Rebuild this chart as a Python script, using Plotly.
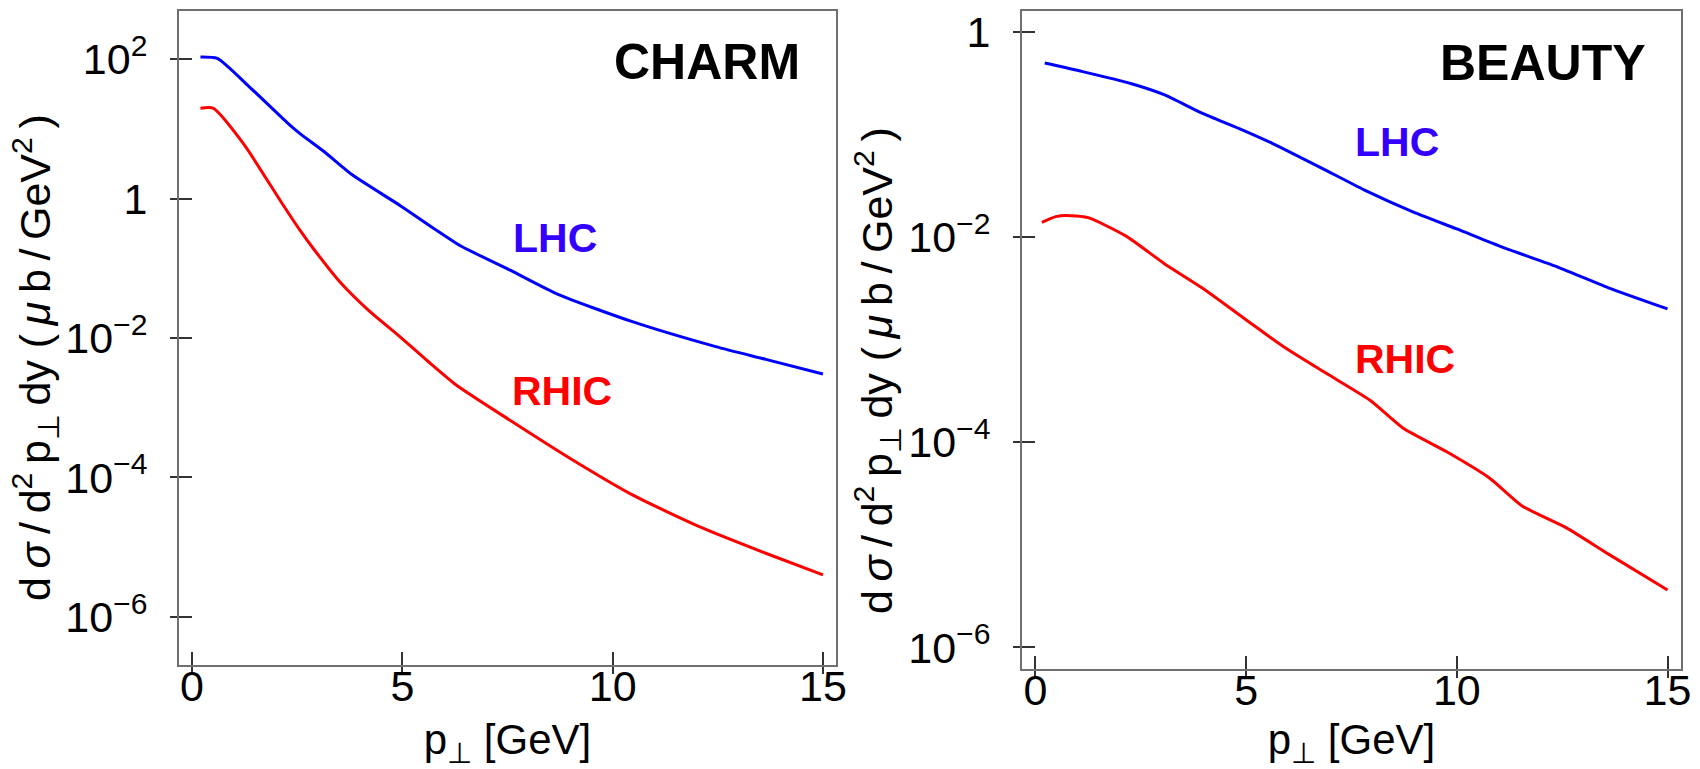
import plotly.graph_objects as go

# ---------------- data ----------------
pt_charm_lhc = [0.2, 0.6, 1.35, 2.26, 2.56, 3.16, 3.8, 4.97, 5.74, 6.39, 7.55, 8.7, 10.47, 12.45, 13.64, 15.0]
charm_lhc = [107.2, 102.3, 40.7, 12.3, 8.61, 4.61, 2.21, 0.778, 0.376, 0.209, 0.0948, 0.0423,
             0.01714, 0.00752, 0.00494, 0.00305]

pt_charm_rhic = [0.2, 0.5, 1.23, 2.13, 2.56, 2.9, 3.55, 4.19, 4.94, 5.6, 6.28, 7.55, 9.05, 10.47, 12.06, 13.64, 15.0]
charm_rhic = [19.8, 19.8, 6.03, 0.871, 0.355, 0.186, 0.0603, 0.0251, 0.01047, 0.00468, 0.00212,
              6.67e-4, 1.78e-4, 5.62e-5, 1.97e-5, 8.18e-6, 4.0e-6]

pt_beauty_lhc = [0.22, 1.12, 2.28, 3.05, 3.95, 4.85, 5.63, 6.79, 7.81, 8.97, 10.0, 11.03, 12.32, 13.6, 15.0]
beauty_lhc = [0.498, 0.411, 0.313, 0.245, 0.162, 0.1138, 0.0818, 0.0472, 0.0288, 0.01758, 0.01202,
              0.00813, 0.00525, 0.00321, 0.00200]

pt_beauty_rhic = [0.15, 0.48, 0.73, 1.25, 2.15, 3.05, 3.95, 4.98, 5.88, 6.91, 7.94, 8.72, 9.75, 10.78,
                  11.55, 12.58, 13.6, 15.0]
beauty_rhic = [0.01396, 0.01585, 0.0163, 0.01549, 0.01023, 0.00555, 0.00321, 0.001585, 8.59e-4, 4.68e-4,
               2.57e-4, 1.38e-4, 8.13e-5, 4.47e-5, 2.40e-5, 1.48e-5, 8.13e-6, 3.63e-6]

x_tickvals = [0, 5, 10, 15]
x_ticktext = ["0", "5", "10", "15"]
charm_tickvals = [1e2, 1, 1e-2, 1e-4, 1e-6]
charm_ticktext = ["10<sup>2</sup>", "1", "10<sup>−2</sup>", "10<sup>−4</sup>", "10<sup>−6</sup>"]
beauty_tickvals = [1, 1e-2, 1e-4, 1e-6]
beauty_ticktext = ["1", "10<sup>−2</sup>", "10<sup>−4</sup>", "10<sup>−6</sup>"]

x_title = "p<sub>⊥</sub> [GeV]"
TS = "\u2009"  # thin space, widens the typeset-looking title
y_title = (f"d{TS}<i>σ</i>{TS}/{TS}d<sup>2</sup>{TS}p<sub>⊥</sub>{TS}dy "
           f"({TS}<i>μ</i>{TS}b{TS}/{TS}GeV<sup>2</sup>{TS})")

# ---------------- styling ----------------
FONT = "Liberation Sans, Arial, sans-serif"
BLUE = "#0000ff"
RED = "#ff0000"
FRAME = "#707070"
TICK = "#333333"

W, H = 1700, 769
left_x = [179 / W, 836 / W]
right_x = [1022 / W, 1681 / W]
left_y = [(H - 665) / H, (H - 11) / H]
right_y = [(H - 669) / H, (H - 11) / H]

fig = go.Figure()
line_kw = dict(width=3, shape="spline", smoothing=0.6)
fig.add_trace(go.Scatter(x=pt_charm_lhc, y=charm_lhc, mode="lines",
                         line=dict(color=BLUE, **line_kw), xaxis="x", yaxis="y"))
fig.add_trace(go.Scatter(x=pt_charm_rhic, y=charm_rhic, mode="lines",
                         line=dict(color=RED, **line_kw), xaxis="x", yaxis="y"))
fig.add_trace(go.Scatter(x=pt_beauty_lhc, y=beauty_lhc, mode="lines",
                         line=dict(color=BLUE, **line_kw), xaxis="x2", yaxis="y2"))
fig.add_trace(go.Scatter(x=pt_beauty_rhic, y=beauty_rhic, mode="lines",
                         line=dict(color=RED, **line_kw), xaxis="x2", yaxis="y2"))
# empty traces so that the overlay axes (inner half of the crossing ticks) are drawn
for xa, ya in (("x3", "y3"), ("x4", "y4")):
    fig.add_trace(go.Scatter(x=[None], y=[None], mode="lines", xaxis=xa, yaxis=ya,
                             hoverinfo="skip", showlegend=False))

TICK_SIZE = 43
TITLE_SIZE = 43
tickfont = dict(family=FONT, size=TICK_SIZE, color="black")
base = dict(showline=True, linecolor=FRAME, linewidth=2, mirror=True, showgrid=False,
            zeroline=False, ticks="outside", ticklen=7, tickwidth=2, tickcolor=TICK,
            tickfont=tickfont, automargin=False)
over = dict(showline=False, showgrid=False, zeroline=False, ticks="inside", ticklen=13,
            tickwidth=2, tickcolor=TICK, showticklabels=False)

xr_left = [-0.31, 15.31]
xr_right = [-0.32, 15.32]
yr_left = [-6.69, 2.69]
yr_right = [-6.21, 0.205]

xt = dict(text=x_title, font=dict(family=FONT, size=42), standoff=29)

fig.update_layout(
    width=W, height=H,
    margin=dict(l=0, r=0, t=0, b=0),
    paper_bgcolor="white", plot_bgcolor="white",
    showlegend=False,
    font=dict(family=FONT, color="black"),
    xaxis=dict(base, domain=left_x, anchor="y", range=xr_left, tickmode="array",
               tickvals=x_tickvals, ticktext=x_ticktext, ticklabelstandoff=-25, title=xt),
    yaxis=dict(base, domain=left_y, anchor="x", type="log", range=yr_left, tickmode="array",
               tickvals=charm_tickvals, ticktext=charm_ticktext, ticklabelstandoff=14),
    xaxis2=dict(base, domain=right_x, anchor="y2", range=xr_right, tickmode="array",
                tickvals=x_tickvals, ticktext=x_ticktext, ticklabelstandoff=-25, title=xt),
    yaxis2=dict(base, domain=right_y, anchor="x2", type="log", range=yr_right, tickmode="array",
                tickvals=beauty_tickvals, ticktext=beauty_ticktext, ticklabelstandoff=14),
    xaxis3=dict(over, overlaying="x", anchor="y", range=xr_left, tickmode="array",
                tickvals=x_tickvals),
    yaxis3=dict(over, overlaying="y", anchor="x", type="log", range=yr_left, tickmode="array",
                tickvals=charm_tickvals),
    xaxis4=dict(over, overlaying="x2", anchor="y2", range=xr_right, tickmode="array",
                tickvals=x_tickvals),
    yaxis4=dict(over, overlaying="y2", anchor="x2", type="log", range=yr_right, tickmode="array",
                tickvals=beauty_tickvals),
)

# rotated y-axis titles
for xc, yc in ((35, 358), (877, 371)):
    fig.add_annotation(text=y_title, x=xc / W, y=1 - yc / H, xref="paper", yref="paper",
                       showarrow=False, textangle=-90, xanchor="center", yanchor="middle",
                       font=dict(family=FONT, size=TITLE_SIZE, color="black"))

def label(text, x, y, xref, yref, color, size):
    fig.add_annotation(text=f"<b>{text}</b>", x=x, y=y, xref=xref, yref=yref, showarrow=False,
                       xanchor="center", yanchor="middle",
                       font=dict(family=FONT, size=size, color=color))

label("CHARM", 12.24, 1.957, "x", "y", "black", 50)
label("LHC", 8.62, -0.559, "x", "y", "#3300ff", 41)
label("RHIC", 8.79, -2.767, "x", "y", RED, 41)
label("BEAUTY", 12.04, -0.305, "x2", "y2", "black", 50)
label("LHC", 8.58, -1.075, "x2", "y2", "#3300ff", 41)
label("RHIC", 8.77, -3.185, "x2", "y2", RED, 41)

fig.write_html("out.html")
